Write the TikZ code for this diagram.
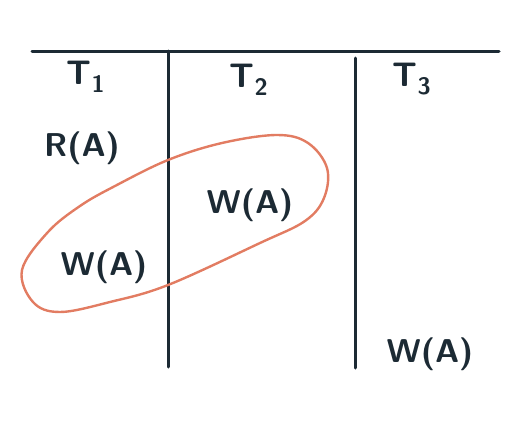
\documentclass[tikz,border=0pt]{standalone}
\usepackage{tikz}
\usetikzlibrary{positioning}

\definecolor{ink}{RGB}{28,42,52}
\definecolor{looporange}{RGB}{226,124,98}

\begin{document}
\begin{tikzpicture}[x=1pt, y=-1pt, line cap=round, line join=round,
    rule/.style={line width=3pt, draw=ink},
    op/.style={text=ink, inner sep=0pt, font=\sffamily\bfseries\fontsize{33}{36}\selectfont},
    head/.style={text=ink, inner sep=0pt, font=\sffamily\bfseries\fontsize{34}{38}\selectfont}]

  \useasboundingbox (0,0) rectangle (522,434);

  %--- Rules of the table ---------------------------------------------------
  \coordinate (hl) at ( 32, 51);
  \coordinate (hr) at (499, 51);
  \coordinate (v1t) at (168, 51);
  \coordinate (v1b) at (168,367);
  \coordinate (v2t) at (355, 58);
  \coordinate (v2b) at (355,368);

  \draw[rule] (hl) -- (hr);
  \draw[rule] (v1t) -- (v1b);
  \draw[rule] (v2t) -- (v2b);

  %--- Column heads ---------------------------------------------------------
  \node[head] (t1) at ( 86, 77) {T\textsubscript{1}};
  \node[head] (t2) at (249, 80) {T\textsubscript{2}};
  \node[head] (t3) at (412, 79) {T\textsubscript{3}};

  %--- Operations -----------------------------------------------------------
  \node[op] (r1) at ( 82,148) {R(A)};
  \node[op] (w2) at (250,205) {W(A)};
  \node[op] (w1) at (104,267) {W(A)};
  \node[op] (w3) at (430,354) {W(A)};

  %--- Loop round the two writes --------------------------------------------
  \draw[line width=2.4pt, draw=looporange] plot[smooth cycle, tension=0.6] coordinates {
      (168,160) (222,143) (277,135) (308,143) (327,168) (324,198)
      (305,221) (260,243) (168,285) (110,302) (60,312) (33,302)
      (22,270) (48,232) (80,206) (115,186)};

\end{tikzpicture}
\end{document}
